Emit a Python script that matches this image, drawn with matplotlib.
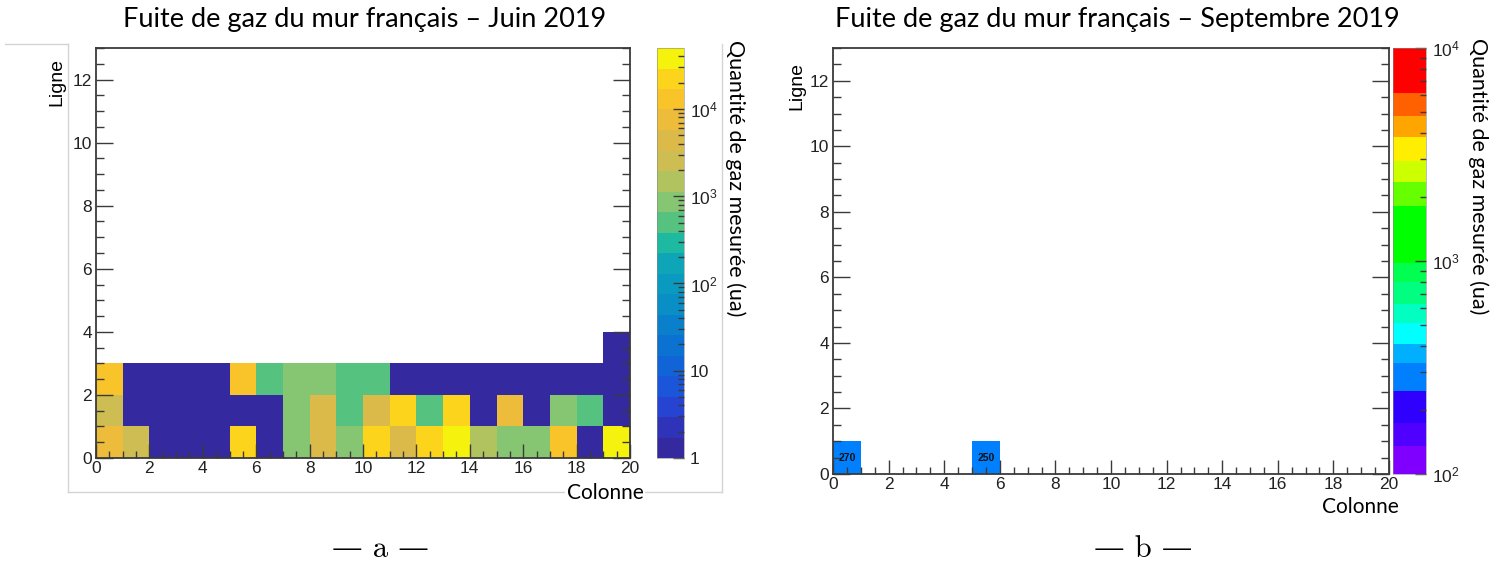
import numpy as np
import matplotlib
matplotlib.use("Agg")
import matplotlib.pyplot as plt
from matplotlib.colors import ListedColormap, BoundaryNorm
from matplotlib.ticker import MultipleLocator
from matplotlib.lines import Line2D

W, H = 1501, 565

# --- données ---
colonnes = np.arange(21)          # bords des colonnes 0..20
lignes_juin = np.arange(5)        # bords des lignes 0..4

juin_ligne0 = [7500, 2600, 1, 1, 1, 22000, 1, 900, 4400, 900,
               22000, 4400, 22000, 38000, 1500, 900, 900, 13000, 1, 38000]
juin_ligne1 = [2600, 1, 1, 1, 1, 1, 1, 900, 4400, 500,
               4400, 22000, 500, 22000, 1, 7500, 1, 900, 500, 1]
juin_ligne2 = [13000, 1, 1, 1, 1, 13000, 500, 900, 900, 500,
               500, 1, 1, 1, 1, 1, 1, 1, 1, 1]
juin_ligne3 = [0, 0, 0, 0, 0, 0, 0, 0, 0, 0,
               0, 0, 0, 0, 0, 0, 0, 0, 0, 1]
juin_min, juin_max = 1, 5e4

sept_colonnes = [0, 5]
sept_lignes = [0, 0]
sept_valeurs = [270, 250]
sept_min, sept_max = 1e2, 1e4

# --- palettes (style ROOT) ---
bird_colors = ["#3529A0", "#2E33B8", "#2643D2", "#1B55DA", "#1064D8",
               "#0B72D2", "#0A80CC", "#0A8EC6", "#0B9ABF", "#0DA5B7",
               "#1DB9A0", "#55C280", "#86C673", "#B0C35E", "#CDBD53",
               "#DCBA4A", "#EDBC3A", "#F9C42A", "#FCD41C", "#F5F30E"]
rainbow_colors = ["#8000FF", "#5000FF", "#3000FF", "#0080FF", "#00B0FF",
                  "#00FFFF", "#00FFC0", "#00FF80", "#00FF50", "#00FF00",
                  "#66FF00", "#CCFF00", "#FFEE00", "#FFA500", "#FF6000",
                  "#FF0000"]
rainbow_bounds = [2.0, 2.13, 2.24, 2.39, 2.52, 2.61, 2.71, 2.80, 2.90,
                  2.99, 3.26, 3.37, 3.47, 3.58, 3.68, 3.79, 4.0]

plt.rcParams["font.family"] = ["Liberation Sans", "DejaVu Sans"]
plt.rcParams["mathtext.fontset"] = "custom"
plt.rcParams["mathtext.rm"] = "Liberation Sans"
plt.rcParams["mathtext.it"] = "Liberation Sans"

TITLE_FONT = ["Lato", "DejaVu Sans"]
FRAME = "#3a3a3a"
TICK_SIZE = 12.5


def fig_box(x0, y0, x1, y1):
    return [x0 / W, 1 - y1 / H, (x1 - x0) / W, (y1 - y0) / H]


def style_axes(ax, ymax):
    ax.set_xlim(0, 20)
    ax.set_ylim(0, ymax)
    ax.xaxis.set_major_locator(MultipleLocator(2))
    ax.xaxis.set_minor_locator(MultipleLocator(0.5))
    ax.yaxis.set_major_locator(MultipleLocator(2))
    ax.yaxis.set_minor_locator(MultipleLocator(0.5))
    ax.tick_params(axis="x", which="both", direction="in", top=False,
                   colors=FRAME, labelcolor="#222222", labelsize=TICK_SIZE, pad=2)
    ax.tick_params(axis="x", which="major", length=10, width=1)
    ax.tick_params(axis="x", which="minor", length=5, width=1)
    ax.tick_params(axis="y", which="both", direction="in", left=True, right=True,
                   colors=FRAME, labelcolor="#222222", labelsize=TICK_SIZE, pad=3)
    ax.tick_params(axis="y", which="major", length=12, width=1)
    ax.tick_params(axis="y", which="minor", length=6, width=1)
    for sp in ax.spines.values():
        sp.set_color(FRAME)
        sp.set_linewidth(1.3)


def log_minors(lo, hi):
    out = []
    for k in range(int(np.floor(lo)), int(np.ceil(hi)) + 1):
        for m in range(2, 10):
            v = np.log10(m) + k
            if lo < v < hi:
                out.append(v)
    return out


def style_cbar(cb, major, labels, lo, hi):
    cb.set_ticks(major, labels=labels)
    cb.set_ticks(log_minors(lo, hi), minor=True)
    cb.ax.tick_params(which="both", direction="in", right=True, left=False,
                      colors=FRAME, labelcolor="#222222", labelsize=TICK_SIZE, pad=4)
    cb.ax.tick_params(which="major", length=8, width=1)
    cb.ax.tick_params(which="minor", length=4, width=1)
    cb.outline.set_linewidth(0.4)
    cb.outline.set_edgecolor("#888888")


fig = plt.figure(figsize=(W / 100, H / 100), dpi=100)

# ---------- a : juin ----------
ax1 = fig.add_axes(fig_box(96, 48, 630, 458))
cax1 = fig.add_axes(fig_box(657, 48, 684, 458))

juin = np.ma.masked_less_equal(
    np.array([juin_ligne0, juin_ligne1, juin_ligne2, juin_ligne3], dtype=float), 0)
juin_bounds = np.linspace(np.log10(juin_min), np.log10(juin_max), len(bird_colors) + 1)
mesh1 = ax1.pcolormesh(colonnes, lignes_juin, np.ma.log10(juin),
                       cmap=ListedColormap(bird_colors),
                       norm=BoundaryNorm(juin_bounds, len(bird_colors)))
style_axes(ax1, 13)
cb1 = fig.colorbar(mesh1, cax=cax1, spacing="proportional")
style_cbar(cb1, [0, 1, 2, 3, 4], ["1", "10", "$10^{2}$", "$10^{3}$", "$10^{4}$"],
           juin_bounds[0], juin_bounds[-1])

# ---------- b : septembre ----------
ax2 = fig.add_axes(fig_box(833, 48, 1389, 474))
cax2 = fig.add_axes(fig_box(1393, 48, 1426, 474))

sept = np.zeros((13, 20))
for c, r, v in zip(sept_colonnes, sept_lignes, sept_valeurs):
    sept[r, c] = v
sept = np.ma.masked_less_equal(sept, 0)
mesh2 = ax2.pcolormesh(colonnes, np.arange(14), np.ma.log10(sept),
                       cmap=ListedColormap(rainbow_colors),
                       norm=BoundaryNorm(rainbow_bounds, len(rainbow_colors)))
for c, r, v in zip(sept_colonnes, sept_lignes, sept_valeurs):
    ax2.text(c + 0.5, r + 0.5, str(v), ha="center", va="center",
             fontsize=7.5, fontweight="bold", color="#111111")
style_axes(ax2, 13)
cb2 = fig.colorbar(mesh2, cax=cax2, spacing="proportional")
style_cbar(cb2, [2, 3, 4], ["$10^{2}$", "$10^{3}$", "$10^{4}$"],
           np.log10(sept_min), np.log10(sept_max))

# ---------- cadre clair autour de l'image a ----------
grey = "#d4d4d4"
for xs, ys in [((5, 68), (44, 44)), ((68, 68), (44, 492)),
               ((68, 722), (492, 492)), ((722, 722), (44, 492))]:
    fig.add_artist(Line2D([x / W for x in xs], [1 - y / H for y in ys],
                          color=grey, lw=1))

# ---------- textes ----------
fig.text(365 / W, 1 - 19 / H, "Fuite de gaz du mur français – Juin 2019",
         ha="center", va="center", fontsize=19.5, family=TITLE_FONT)
fig.text(1117 / W, 1 - 19 / H, "Fuite de gaz du mur français – Septembre 2019",
         ha="center", va="center", fontsize=19.5, family=TITLE_FONT)

fig.text(57 / W, 1 - 82 / H, "Ligne", rotation=90, ha="center", va="center",
         fontsize=14)
fig.text(797 / W, 1 - 86 / H, "Ligne", rotation=90, ha="center", va="center",
         fontsize=14)

fig.text(605 / W, 1 - 493 / H, "Colonne", ha="center", va="center",
         fontsize=15, family=TITLE_FONT,
         bbox=dict(facecolor="white", edgecolor="none", pad=1))
fig.text(1360 / W, 1 - 507 / H, "Colonne", ha="center", va="center",
         fontsize=15, family=TITLE_FONT)

fig.text(735 / W, 1 - 178 / H, "Quantité de gaz mesurée (ua)", rotation=-90,
         ha="center", va="center", fontsize=15.5, family=TITLE_FONT)
fig.text(1478 / W, 1 - 176 / H, "Quantité de gaz mesurée (ua)", rotation=-90,
         ha="center", va="center", fontsize=15.5, family=TITLE_FONT)

fig.text(380 / W, 1 - 549 / H, "— a —", ha="center", va="center",
         fontsize=22, family=["cmr10", "DejaVu Serif"])
fig.text(1143 / W, 1 - 549 / H, "— b —", ha="center", va="center",
         fontsize=22, family=["cmr10", "DejaVu Serif"])

fig.savefig("out.png", dpi=100)
